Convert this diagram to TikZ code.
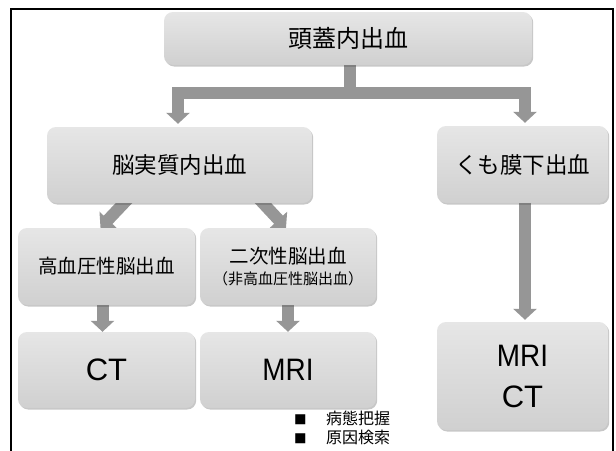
\documentclass[tikz,border=0pt]{standalone}
\usepackage{fontspec}
\setmainfont{Liberation Sans}
\newfontfamily\jp{Noto Sans CJK JP}
\usetikzlibrary{arrows.meta,shadows}
\definecolor{boxtop}{HTML}{E6E6E6}
\definecolor{boxbot}{HTML}{D0D0D0}
\definecolor{arr}{HTML}{969696}
\pgfdeclarelayer{back}
\pgfdeclarelayer{bg}
\pgfsetlayers{back,bg,main}
\begin{document}
\begin{tikzpicture}[x=1pt,y=-1pt,
  box/.style={rectangle, rounded corners=9pt, top color=boxtop, bottom color=boxbot,
    draw=none, inner sep=0pt, align=center,
    drop shadow={shadow xshift=1.2pt, shadow yshift=-1.5pt, fill=black, opacity=0.22}},
  conn/.style={draw=arr, line width=12pt, line join=miter,
    -{Triangle[width=23pt,length=11pt]}},
  jpbig/.style={font=\jp\fontsize{22.5}{26}\selectfont},
  jpmid/.style={font=\jp\fontsize{19.5}{22}\selectfont},
  latin/.style={font=\fontsize{31}{41}\selectfont},
]
\useasboundingbox (0,0) rectangle (616,450);
\begin{pgfonlayer}{back}
\fill[white] (0,0) rectangle (616,450);
\end{pgfonlayer}
\draw[line width=2pt, black] (11,451) -- (11,9) -- (613,9) -- (613,451);

\node[box, font=\jp\fontsize{24}{28}\selectfont, minimum width=368pt, minimum height=53pt] (title) at (348,38.5) {頭蓋内出血};
\node[box, jpbig, minimum width=265pt, minimum height=76pt] (ich) at (179.5,165) {脳実質内出血};
\node[box, jpbig, minimum width=171pt, minimum height=77pt] (sah) at (522.5,164.5) {くも膜下出血};
\node[box, jpmid, minimum width=177pt, minimum height=77pt] (hyp) at (106.5,266.5) {高血圧性脳出血};
\node[box, jpmid, minimum width=176pt, minimum height=77pt] (sec) at (288,266.5) {二次性脳出血\\[-1pt]{\fontsize{15}{17}\selectfont （非高血圧性脳出血）}};
\node[box, latin, minimum width=177pt, minimum height=76pt] (ct) at (106.5,370) {CT};
\node[box, latin, minimum width=176pt, minimum height=76pt] (mri) at (288,370) {\scalebox{0.9}[1]{MRI}};
\node[box, latin, minimum width=171pt, minimum height=108pt] (mrict) at (522.5,376) {\scalebox{0.9}[1]{MRI}\\CT};

\node[anchor=north west, inner sep=0pt, align=left, font=\jp\fontsize{16}{19}\selectfont] (bul) at (294,411)
  {\makebox[32pt][l]{\fontsize{12.5}{12}\selectfont ■}病態把握\\\makebox[32pt][l]{\fontsize{12.5}{12}\selectfont ■}原因検索};

\coordinate (j) at (350,92.5);
\begin{pgfonlayer}{bg}
\draw[conn, -] ([xshift=2pt,yshift=4pt]title.south) -- (j);
\draw[conn, shorten >=3pt] (j) -| ([xshift=-1.5pt]ich.north);
\draw[conn, shorten >=3pt] (j) -| ([xshift=2.5pt]sah.north);
\draw[conn] ([xshift=-50pt,yshift=6pt]ich.south) -- ([xshift=-6pt]hyp.north);
\draw[conn] ([xshift=78pt,yshift=6pt]ich.south) -- ([xshift=-2pt]sec.north);
\draw[conn] ([xshift=-4pt,yshift=4pt]hyp.south) -- ([xshift=-4pt]ct.north);
\draw[conn] ([yshift=4pt]sec.south) -- (mri.north);
\draw[conn, shorten >=2pt] ([xshift=2.5pt,yshift=4pt]sah.south) -- ([xshift=2.5pt]mrict.north);
\end{pgfonlayer}
\end{tikzpicture}
\end{document}
